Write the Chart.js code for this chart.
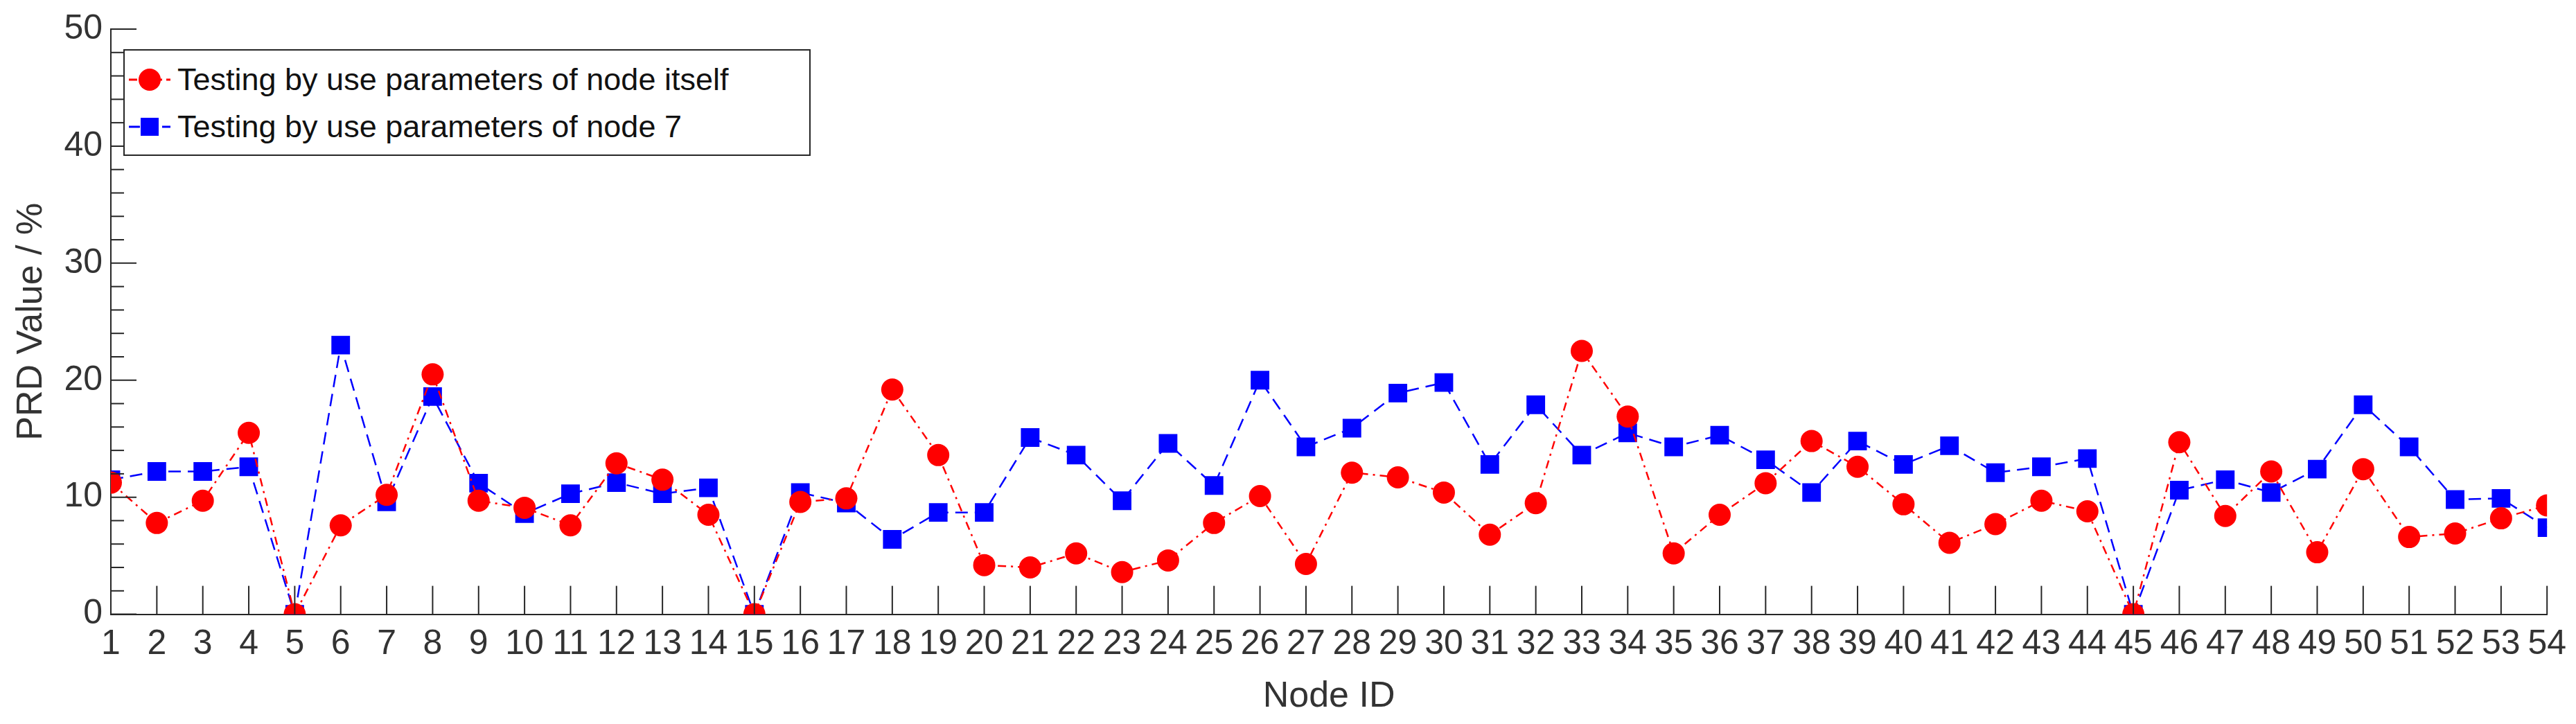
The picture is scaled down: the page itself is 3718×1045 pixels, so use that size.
<!DOCTYPE html>
<html><head><meta charset="utf-8">
<script src="https://cdn.jsdelivr.net/npm/chart.js@4/dist/chart.umd.min.js"></script>
<style>
html,body{margin:0;padding:0;background:#fff;}
#wrap{position:relative;width:3718px;height:1045px;}
#legend{position:absolute;left:178px;top:71px;width:988px;height:150px;border:2px solid #262626;background:#fff;font-family:'Liberation Sans',sans-serif;font-size:45px;color:#111;white-space:nowrap;}
.row{position:absolute;left:0;height:60px;display:flex;align-items:center;}
.row svg{margin-left:6px;margin-right:10px;}
</style></head>
<body><div id="wrap"><canvas id="c" width="3718" height="1045"></canvas>
<div id="legend">
<div class="row" style="top:12px"><svg width="60" height="40"><line x1="0" y1="20" x2="60" y2="20" stroke="#ff0000" stroke-width="3" stroke-dasharray="12,6,3,6"/><circle cx="30" cy="20" r="16" fill="#ff0000"/></svg><span>Testing by use parameters of node itself</span></div>
<div class="row" style="top:80px"><svg width="60" height="40"><line x1="0" y1="20" x2="60" y2="20" stroke="#0000ff" stroke-width="3" stroke-dasharray="16,8"/><rect x="17" y="7" width="26" height="26" fill="#0000ff"/></svg><span>Testing by use parameters of node 7</span></div>
</div></div>
<script>
const nodes = Array.from({length:54},(_,i)=>i+1);
const prdItself = [11.25,7.8,9.7,15.5,0,7.6,10.2,20.5,9.7,9.1,7.6,12.9,11.5,8.5,0,9.6,9.9,19.2,13.6,4.2,4.0,5.2,3.6,4.6,7.8,10.1,4.3,12.1,11.7,10.4,6.8,9.5,22.5,16.9,5.2,8.5,11.2,14.8,12.6,9.4,6.1,7.7,9.7,8.8,0,14.7,8.4,12.2,5.3,12.4,6.6,6.9,8.2,9.3];
const prdNode7 = [11.5,12.2,12.2,12.6,0,23,9.6,18.6,11.2,8.6,10.3,11.25,10.3,10.8,0,10.4,9.5,6.4,8.7,8.7,15.1,13.6,9.7,14.6,11.0,20.0,14.3,15.9,18.9,19.8,12.8,17.9,13.6,15.5,14.3,15.3,13.2,10.4,14.8,12.8,14.4,12.1,12.6,13.3,0,10.6,11.5,10.4,12.4,17.9,14.3,9.8,9.9,7.4];
const yTicks = [0,10,20,30,40,50];
const FONT = "'Liberation Sans',sans-serif";
const AX = '#262626';
const inwardTicks = {
  id:'inwardTicks',
  afterDraw(ch){
    const c=ch.ctx, x=ch.scales.x, y=ch.scales.y;
    c.save(); c.strokeStyle=AX; c.lineWidth=2;
    for(let v=0; v<=50; v+=2){
      const py=y.getPixelForValue(v); const len = (v%10===0)?37:19;
      c.beginPath(); c.moveTo(x.left,py); c.lineTo(x.left+len,py); c.stroke();
    }
    nodes.forEach(n=>{const px=x.getPixelForValue(n);
      c.beginPath(); c.moveTo(px,y.bottom); c.lineTo(px,y.bottom-41); c.stroke();});
    c.restore();
  }
};
new Chart(document.getElementById('c'),{
  type:'line',
  data:{datasets:[
    {label:'Testing by use parameters of node itself',data:nodes.map((n,i)=>({x:n,y:prdItself[i]})),
     borderColor:'#ff0000',backgroundColor:'#ff0000',borderWidth:2.5,borderDash:[12,7,3,7],
     pointStyle:'circle',pointRadius:16,pointHoverRadius:16,pointBorderWidth:0},
    {label:'Testing by use parameters of node 7',data:nodes.map((n,i)=>({x:n,y:prdNode7[i]})),
     borderColor:'#0000ff',backgroundColor:'#0000ff',borderWidth:2.5,borderDash:[18,10],
     pointStyle:'rect',pointRadius:19,pointHoverRadius:19,pointBorderWidth:0}
  ]},
  options:{
    responsive:false,animation:false,devicePixelRatio:1,
    layout:{padding:{left:14,right:26,top:26,bottom:8}},
    plugins:{legend:{display:false},tooltip:{enabled:false}},
    scales:{
      x:{type:'linear',min:1,max:54,
         afterBuildTicks:s=>{s.ticks=nodes.map(v=>({value:v}));},
         grid:{display:true,drawOnChartArea:false,drawTicks:false,color:AX},
         border:{display:true,color:AX,width:2},
         ticks:{autoSkip:false,maxRotation:0,padding:14,color:'#333',font:{family:FONT,size:50},callback:v=>String(v)},
         title:{display:true,text:'Node ID',color:'#333',font:{family:FONT,size:52},padding:{top:0,bottom:0}}},
      y:{min:0,max:50,
         afterBuildTicks:s=>{s.ticks=yTicks.map(v=>({value:v}));},
         grid:{display:true,drawOnChartArea:false,drawTicks:false,color:AX},
         border:{display:true,color:AX,width:2},
         ticks:{padding:12,color:'#333',font:{family:FONT,size:50}},
         title:{display:true,text:'PRD Value / %',color:'#333',font:{family:FONT,size:52},padding:{top:0,bottom:4}}}
    }
  },
  plugins:[inwardTicks]
});
</script></body></html>
